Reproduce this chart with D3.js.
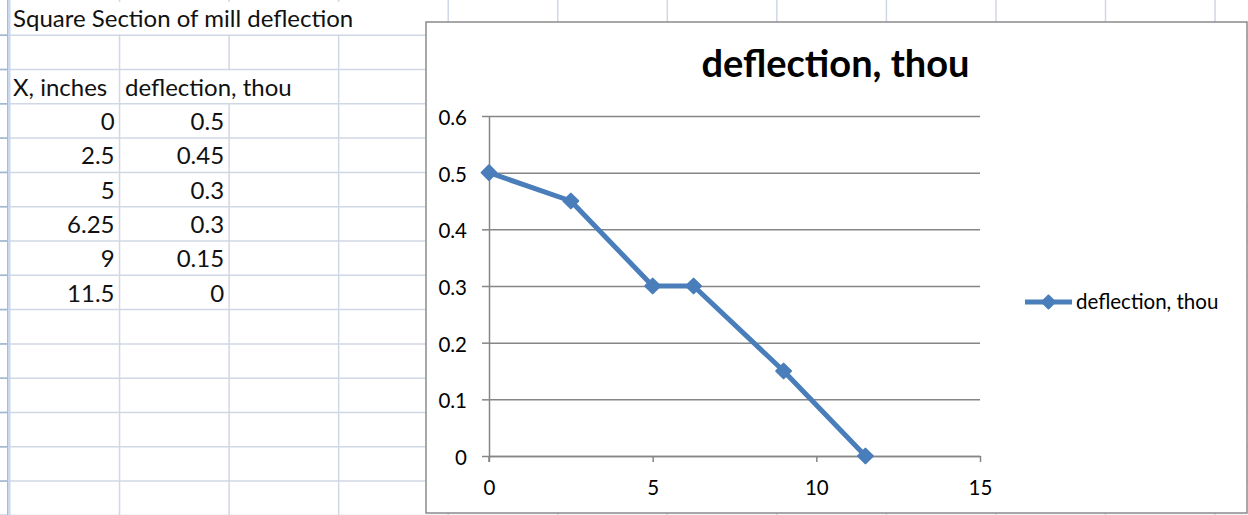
<!DOCTYPE html>
<html>
<head>
<meta charset="utf-8">
<script src="https://cdn.jsdelivr.net/npm/d3@7"></script>
<style>
  body { margin: 0; background: #fff; }
  svg { display: block; font-family: Lato, "Open Sans", sans-serif; }
</style>
</head>
<body>
<script>
// table data
var xInches = [0, 2.5, 5, 6.25, 9, 11.5];
var deflection = [0.5, 0.45, 0.3, 0.3, 0.15, 0];
var xTicks = [0, 5, 10, 15];
var yTicks = [0, 0.1, 0.2, 0.3, 0.4, 0.5, 0.6];
var seriesName = "deflection, thou";
var sheetTitle = "Square Section of mill deflection";
var headers = ["X, inches", "deflection, thou"];

var W = 1248, H = 515;
var svg = d3.select("body").append("svg").attr("width", W).attr("height", H);

// ---- spreadsheet grid ----
var colW = 109.55, col0 = 10, rowH = 34.3, row0 = 35.2;
var gridColor = "#d0d7e5";
var sheet = svg.append("g");
var cover = svg.append("g");   // hides cell borders under overflowing text
var cells = svg.append("g");

var rowYs = d3.range(0, 15).map(function(i){ return row0 + i * rowH; });
var colXs = d3.range(0, 12).map(function(i){ return col0 + i * colW; });

sheet.selectAll("line.row").data(rowYs).enter().append("line")
  .attr("x1", 0).attr("x2", W).attr("y1", function(d){ return d; }).attr("y2", function(d){ return d; })
  .attr("stroke", gridColor).attr("stroke-width", 1.5);
// row header separators (darker bit at far left)
sheet.selectAll("line.rh").data(rowYs).enter().append("line")
  .attr("x1", 0).attr("x2", 8).attr("y1", function(d){ return d; }).attr("y2", function(d){ return d; })
  .attr("stroke", "#9eb6ce").attr("stroke-width", 1.5);
sheet.selectAll("line.col").data(colXs.slice(1)).enter().append("line")
  .attr("x1", function(d){ return d; }).attr("x2", function(d){ return d; }).attr("y1", 0).attr("y2", H)
  .attr("stroke", gridColor).attr("stroke-width", 1.5);
// row header edge
sheet.append("rect").attr("x", 7).attr("y", 0).attr("width", 3.5).attr("height", H).attr("fill", "#c9d8ee");
sheet.append("line").attr("x1", 7.5).attr("x2", 7.5).attr("y1", 0).attr("y2", H)
  .attr("stroke", "#a6bcd8").attr("stroke-width", 1);

// row is 1-based like in the sheet
function cellText(txt, row, col, align) {
  var bottom = row0 + (row - 1) * rowH;
  var t = cells.append("text").attr("y", bottom - 8).attr("font-size", 24).attr("fill", "#111").text(txt);
  if (align === "right") {
    t.attr("x", colXs[col + 1] - 5).attr("text-anchor", "end");
    return;
  }
  var x0 = colXs[col] + (col === 0 ? 3 : 5.5);
  t.attr("x", x0);
  // text spills into the next cells: their left borders disappear
  var end = x0 + t.node().getComputedTextLength();
  colXs.forEach(function(cx){
    if (cx > colXs[col] + 1 && cx < end + 4) {
      cover.append("rect").attr("x", cx - 1.5).attr("width", 3)
        .attr("y", bottom - rowH + 1).attr("height", rowH - 2).attr("fill", "#fff");
    }
  });
}
cellText(sheetTitle, 1, 0, "left");
cellText(headers[0], 3, 0, "left");
cellText(headers[1], 3, 1, "left");
xInches.forEach(function(v, i){
  cellText(String(v), 4 + i, 0, "right");
  cellText(String(deflection[i]), 4 + i, 1, "right");
});

// ---- chart object ----
var box = { x: 426, y: 22, w: 821, h: 491 };
var chart = svg.append("g");
chart.append("rect").attr("x", box.x).attr("y", box.y).attr("width", box.w).attr("height", box.h)
  .attr("fill", "#fff").attr("stroke", "#8a8a8a").attr("stroke-width", 1.5);

chart.append("text").attr("x", box.x + box.w / 2 - 1).attr("y", 77)
  .attr("text-anchor", "middle").attr("font-size", 38).attr("font-weight", "bold").attr("fill", "#000")
  .text(seriesName);

var x = d3.scaleLinear().domain([0, 15]).range([489, 980]);
var y = d3.scaleLinear().domain([0, 0.6]).range([456, 116]);
var axisColor = "#868686";
var blue = "#4a7ebb";

// gridlines
chart.append("g").attr("transform", "translate(" + x(0) + ",0)")
  .call(d3.axisLeft(y).tickValues(yTicks).tickSize(-(x(15) - x(0))).tickFormat(""))
  .call(function(g){
    g.select(".domain").remove();
    g.selectAll("line").attr("stroke", axisColor).attr("stroke-width", 1.5);
  });

// y axis
chart.append("g").attr("transform", "translate(" + x(0) + ",0)")
  .call(d3.axisLeft(y).tickValues(yTicks).tickSize(7).tickSizeOuter(0).tickPadding(15)
    .tickFormat(function(d){ return +d.toFixed(1); }))
  .call(function(g){
    g.select(".domain").attr("stroke", axisColor).attr("stroke-width", 1.5);
    g.selectAll("line").attr("stroke", axisColor).attr("stroke-width", 1.5);
    g.selectAll("text").attr("font-size", 20.5).attr("font-family", "Lato").attr("fill", "#000").attr("dy", "0.42em");
  });

// x axis
chart.append("g").attr("transform", "translate(0," + y(0) + ")")
  .call(d3.axisBottom(x).tickValues(xTicks).tickSize(6).tickSizeOuter(0).tickPadding(18))
  .call(function(g){
    g.select(".domain").attr("stroke", axisColor).attr("stroke-width", 1.5);
    g.selectAll("line").attr("stroke", axisColor).attr("stroke-width", 1.5);
    g.selectAll("text").attr("font-size", 20.5).attr("font-family", "Lato").attr("fill", "#000");
  });
// y axis runs past the origin down to the tick length
chart.append("line").attr("x1", x(0)).attr("x2", x(0)).attr("y1", y(0)).attr("y2", y(0) + 6)
  .attr("stroke", axisColor).attr("stroke-width", 1.5);

// series
var pts = xInches.map(function(v, i){ return [v, deflection[i]]; });
var line = d3.line().x(function(d){ return x(d[0]); }).y(function(d){ return y(d[1]); });
chart.append("path").datum(pts).attr("d", line)
  .attr("fill", "none").attr("stroke", blue).attr("stroke-width", 5).attr("stroke-linejoin", "round");

var diamond = d3.symbol().type(d3.symbolSquare).size(110);
chart.selectAll("path.mk").data(pts).enter().append("path")
  .attr("d", diamond)
  .attr("transform", function(d){ return "translate(" + x(d[0]) + "," + y(d[1]) + ") rotate(45)"; })
  .attr("fill", blue).attr("stroke", blue).attr("stroke-width", 2).attr("stroke-linejoin", "round");

// legend
var lg = chart.append("g").attr("transform", "translate(1025,302)");
lg.append("line").attr("x1", 0).attr("x2", 47).attr("stroke", blue).attr("stroke-width", 5);
lg.append("path").attr("d", d3.symbol().type(d3.symbolSquare).size(85)).attr("transform", "translate(23.5,0) rotate(45)")
  .attr("fill", blue).attr("stroke", blue).attr("stroke-width", 2).attr("stroke-linejoin", "round");
lg.append("text").attr("x", 51).attr("y", 7).attr("font-size", 20.5).attr("fill", "#000").text(seriesName);
</script>
</body>
</html>
